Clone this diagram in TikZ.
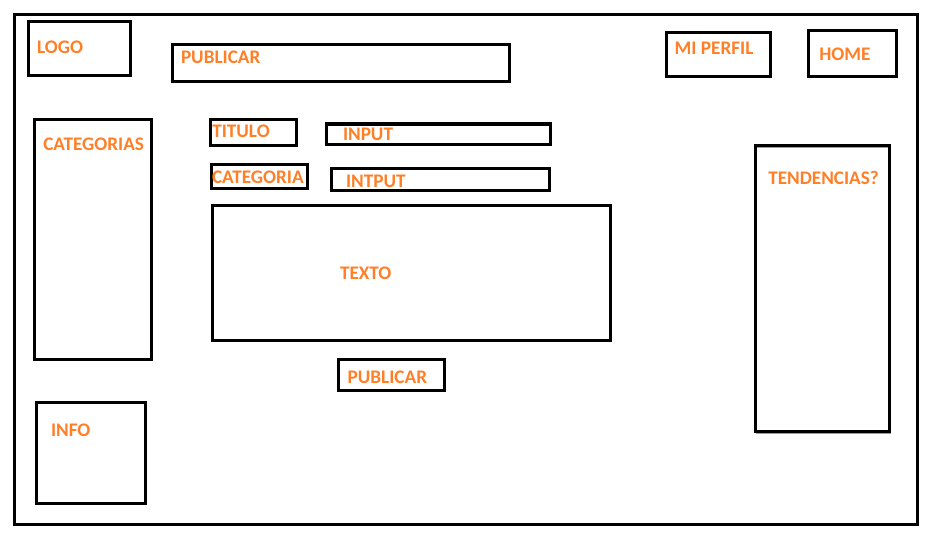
\documentclass[tikz,border=0pt]{standalone}
\usepackage{fontspec}
\setmainfont{Carlito}
\definecolor{paintorange}{RGB}{255,127,39}
\tikzset{
  wbox/.style={draw=black, line width=3pt, rectangle, inner sep=0pt, outer sep=0pt},
  lbl/.style={anchor=base west, inner sep=0pt, outer sep=0pt, text=paintorange,
              font=\fontsize{19.2}{21}\selectfont\bfseries}
}
\newcommand{\boxat}[5]{% name, x1, y1, x2, y2 (line centres)
  \node[wbox, minimum width={(#4)-(#2)}, minimum height={(#5)-(#3)}]
    (#1) at ({((#2)+(#4))/2},{((#3)+(#5))/2}) {};}
\begin{document}
\begin{tikzpicture}[x=1pt,y=-1pt]
  \useasboundingbox (0,0) rectangle (930,535);
  \fill[white] (0,0) rectangle (930,535);

  % outer frame
  \boxat{frame}{14.7}{15}{917.5}{524}

  % header
  \boxat{logo}{28.7}{22}{130}{76}
  \boxat{pubtop}{172}{44.7}{509.3}{82}
  \boxat{perfil}{666}{32.7}{770.7}{76.7}
  \boxat{home}{808.7}{30.7}{896.7}{76.7}

  % left column
  \boxat{cats}{34}{120}{151.3}{359}
  \boxat{info}{36.7}{402}{145.3}{503.3}

  % form
  \boxat{titulo}{210.3}{120}{296.3}{145}
  \boxat{input1}{326}{124}{550}{144}
  \boxat{categoria}{211}{164.7}{307.7}{188.7}
  \boxat{input2}{331}{168.7}{549.3}{190.7}
  \boxat{texto}{212.7}{205.7}{610}{340.3}
  \boxat{pubbtn}{338.7}{359}{444}{390.3}

  % right column (with faint orange trace)
  \draw[paintorange, line width=1pt] (756.6,147.2) rectangle (890.3,433.2);
  \boxat{tend}{755}{145.3}{889.3}{431.3}

  % labels
  \node[lbl] (tlogo) at (37,54) {LOGO};
  \node[lbl] (tpubtop) at (181,64) {PUBLICAR};
  \node[lbl] (tperfil) at (674.7,54.3) {MI PERFIL};
  \node[lbl] (thome) at (819.3,60.3) {HOME};
  \node[lbl] (tcats) at (43.3,150.7) {CATEGORIAS};
  \node[lbl] (tinfo) at (51,436) {INFO};
  \node[lbl] (ttitulo) at (212.3,137.3) {TITULO};
  \node[lbl] (tinput1) at (343,140) {INPUT};
  \node[lbl] (tcategoria) at (212,183.3) {CATEGORIA};
  \node[lbl] (tinput2) at (346,187.3) {INTPUT};
  \node[lbl] (ttexto) at (340,279) {TEXTO};
  \node[lbl] (tpubbtn) at (347.7,383.3) {PUBLICAR};
  \node[lbl] (ttend) at (768.3,184) {TENDENCIAS?};
\end{tikzpicture}
\end{document}
